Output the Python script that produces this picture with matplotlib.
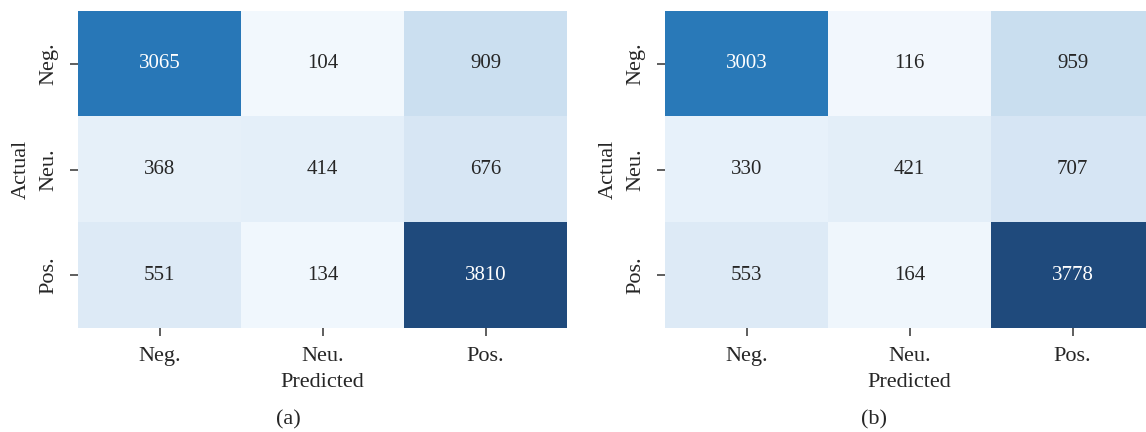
import numpy as np
import matplotlib
matplotlib.use("Agg")
import matplotlib.pyplot as plt
from matplotlib.colors import LinearSegmentedColormap

labels = ["Neg.", "Neu.", "Pos."]
cm_a = np.array([[3065, 104, 909],
                 [368, 414, 676],
                 [551, 134, 3810]])
cm_b = np.array([[3003, 116, 959],
                 [330, 421, 707],
                 [553, 164, 3778]])
panel_names = ["(a)", "(b)"]

plt.rcParams['font.family'] = ['Liberation Serif', 'DejaVu Serif']

# Blues, but with the print-style softened dark end
blues = plt.get_cmap("Blues")
stops = [blues(v) for v in np.linspace(0, 0.8, 9)] + ["#1f4a7c"]
cmap = LinearSegmentedColormap.from_list("blues_soft", stops)

fig = plt.figure(figsize=(11.46, 4.32), dpi=100)
W, H = 1146, 432
axes_px = [(78, 489), (665, 489)]
caption_x = [288, 874]
text_dark = "#262626"

for (x0, w), cm, name, cx in zip(axes_px, [cm_a, cm_b], panel_names, caption_x):
    ax = fig.add_axes([x0 / W, (432 - 328) / H, w / W, 317 / H])
    ax.imshow(cm, cmap=cmap, aspect="auto", vmin=0, vmax=cm.max())
    norm = cm / cm.max()
    for i in range(3):
        for j in range(3):
            ax.text(j, i, str(cm[i, j]), ha="center", va="center", fontsize=15,
                    color="white" if norm[i, j] > 0.6 else text_dark)
    ax.set_xticks(range(3))
    ax.set_yticks(range(3))
    ax.set_xticklabels(labels, fontsize=16, color=text_dark)
    ax.set_yticklabels(labels, fontsize=16, color=text_dark, rotation=90, va="center")
    ax.tick_params(length=6, width=1.1, color="#333333", pad=8)
    ax.set_xlabel("Predicted", fontsize=16, color=text_dark, labelpad=5)
    ax.set_ylabel("Actual", fontsize=16, color=text_dark, labelpad=6)
    for s in ax.spines.values():
        s.set_visible(False)
    fig.text(cx / W, 1 - 420 / H, name, ha="center", va="center", fontsize=16, color=text_dark)

fig.savefig("out.png", dpi=100)
